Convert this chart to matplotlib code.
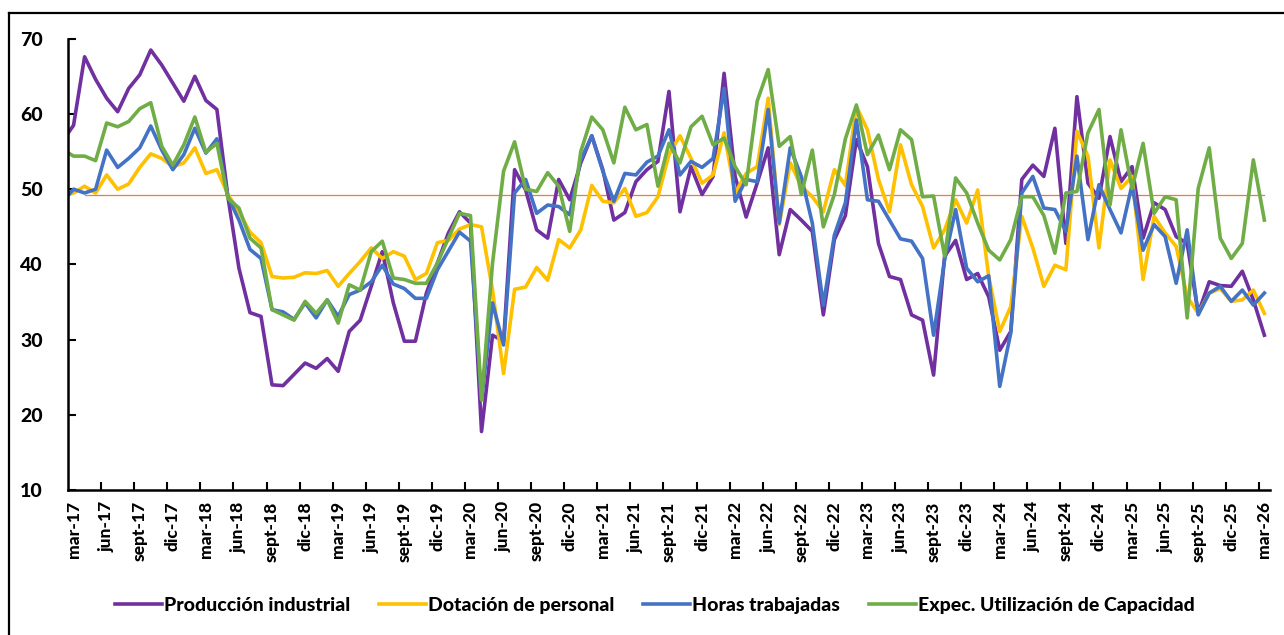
import matplotlib
matplotlib.use("Agg")
import matplotlib.pyplot as plt
from matplotlib.lines import Line2D
from matplotlib import font_manager

# pick the first preferred family that really has a bold face installed
prefer = ['Lato', 'Open Sans', 'Noto Sans', 'Roboto', 'Liberation Sans', 'DejaVu Sans']
bold_names = {f.name for f in font_manager.fontManager.ttflist
              if (isinstance(f.weight, int) and f.weight >= 700) or f.weight in ('bold', 'heavy', 'black')}
family = next((p for p in prefer if p in bold_names), 'DejaVu Sans')
plt.rcParams['font.family'] = [family, 'DejaVu Sans']
WEIGHT = 900
plt.rcParams['font.weight'] = WEIGHT

# monthly values, feb-17 .. mar-26 (feb-17 sits just left of the axis and is clipped)
produccion = [56.4,
    58.5, 67.6, 64.6, 62.1, 60.3, 63.4, 65.2, 68.5, 66.5, 64.1, 61.7, 65.0,
    61.8, 60.6, 49.0, 39.5, 33.6, 33.1, 24.0, 23.9, 25.4, 26.9, 26.2, 27.5,
    25.8, 31.1, 32.6, 37.1, 41.7, 34.9, 29.8, 29.8, 36.2, 40.2, 44.2, 47.0,
    45.5, 17.8, 30.6, 29.8, 52.6, 49.9, 44.6, 43.5, 51.3, 48.6, 53.5, 57.1,
    52.6, 45.9, 46.9, 51.0, 52.6, 53.7, 63.0, 47.0, 53.0, 49.3, 51.7, 65.4,
    51.7, 46.3, 50.8, 55.5, 41.3, 47.3, 45.9, 44.4, 33.3, 43.3, 46.5, 56.6,
    53.0, 42.8, 38.4, 38.0, 33.3, 32.6, 25.3, 41.1, 43.2, 38.0, 38.8, 35.7,
    28.6, 31.1, 51.3, 53.2, 51.7, 58.1, 42.8, 62.3, 50.8, 48.8, 57.0, 51.0,
    53.0, 43.5, 48.2, 47.3, 43.7, 42.8, 33.5, 37.7, 37.2, 37.1, 39.1, 35.3,
    30.6]
dotacion = [49.0,
    49.5, 50.4, 49.5, 51.9, 50.0, 50.7, 52.9, 54.7, 54.1, 53.0, 53.5, 55.5,
    52.1, 52.6, 49.3, 47.0, 44.3, 42.9, 38.4, 38.2, 38.3, 38.9, 38.8, 39.2,
    37.1, 38.8, 40.4, 42.2, 40.8, 41.7, 41.1, 38.0, 38.8, 42.9, 43.2, 44.7,
    45.3, 45.0, 36.6, 25.5, 36.7, 37.0, 39.6, 37.9, 43.3, 42.2, 44.6, 50.5,
    48.4, 48.2, 50.1, 46.4, 46.9, 49.0, 54.6, 57.1, 54.1, 50.8, 51.9, 57.5,
    49.5, 52.1, 53.0, 62.1, 45.3, 53.5, 50.4, 49.0, 47.0, 52.6, 50.5, 61.0,
    57.9, 51.3, 47.0, 55.9, 50.6, 47.7, 42.2, 44.6, 48.6, 45.5, 49.9, 38.4,
    31.1, 34.4, 46.4, 42.2, 37.1, 39.9, 39.3, 57.7, 54.4, 42.2, 53.9, 50.1,
    51.7, 38.0, 46.4, 44.2, 42.4, 35.7, 33.5, 36.2, 36.8, 35.1, 35.3, 36.6,
    33.5]
horas = [48.4,
    50.0, 49.5, 50.0, 55.2, 52.9, 54.1, 55.5, 58.4, 55.2, 52.6, 54.6, 58.1,
    54.8, 56.7, 49.0, 45.9, 42.0, 40.8, 34.0, 33.7, 32.7, 34.9, 32.9, 35.3,
    33.1, 36.0, 36.6, 37.7, 39.9, 37.4, 36.8, 35.5, 35.5, 39.3, 41.8, 44.3,
    43.1, 22.0, 34.9, 29.3, 49.5, 51.3, 46.8, 47.9, 47.7, 46.6, 53.9, 57.1,
    52.4, 48.4, 52.1, 51.9, 53.6, 54.4, 57.9, 51.9, 53.7, 52.9, 54.1, 63.4,
    48.4, 51.3, 51.0, 60.6, 45.5, 55.5, 51.7, 45.5, 34.6, 43.9, 48.2, 59.2,
    48.6, 48.4, 45.9, 43.4, 43.1, 40.8, 30.6, 40.6, 47.3, 39.5, 37.7, 38.5,
    23.8, 30.9, 49.5, 51.7, 47.5, 47.3, 44.4, 54.4, 43.3, 50.6, 47.3, 44.2,
    50.6, 41.9, 45.3, 43.7, 37.5, 44.6, 33.3, 36.2, 37.1, 35.1, 36.6, 34.6,
    36.2]
expec_capacidad = [55.3,
    54.4, 54.4, 53.8, 58.8, 58.3, 59.0, 60.7, 61.5, 55.7, 53.2, 55.9, 59.6,
    54.9, 56.1, 48.8, 47.5, 43.5, 42.2, 34.0, 33.3, 32.6, 35.1, 33.5, 35.3,
    32.2, 37.3, 36.6, 41.7, 43.1, 38.2, 38.0, 37.5, 37.5, 40.2, 43.5, 46.8,
    46.5, 22.0, 40.2, 52.4, 56.3, 50.0, 49.7, 52.2, 50.4, 44.4, 55.0, 59.6,
    57.9, 53.5, 60.9, 57.9, 58.6, 50.4, 56.1, 53.5, 58.3, 59.7, 55.9, 56.8,
    53.0, 50.6, 61.7, 65.9, 55.7, 57.0, 49.3, 55.2, 45.0, 49.3, 56.7, 61.2,
    54.6, 57.2, 52.6, 57.9, 56.6, 49.0, 49.1, 41.1, 51.5, 49.5, 45.5, 41.9,
    40.6, 43.3, 49.0, 49.0, 46.5, 41.5, 49.5, 49.7, 57.5, 60.6, 47.9, 57.9,
    50.1, 56.1, 46.8, 49.0, 48.6, 32.9, 50.1, 55.5, 43.5, 40.8, 42.8, 53.9,
    45.9]
referencia = 49.2

tick_labels = ['mar-17', 'jun-17', 'sept-17', 'dic-17', 'mar-18', 'jun-18', 'sept-18', 'dic-18',
               'mar-19', 'jun-19', 'sept-19', 'dic-19', 'mar-20', 'jun-20', 'sept-20', 'dic-20',
               'mar-21', 'jun-21', 'sept-21', 'dic-21', 'mar-22', 'jun-22', 'sept-22', 'dic-22',
               'mar-23', 'jun-23', 'sept-23', 'dic-23', 'mar-24', 'jun-24', 'sept-24', 'dic-24',
               'mar-25', 'jun-25', 'sept-25', 'dic-25', 'mar-26']

series = [('Producción industrial', produccion, '#7030A0'),
          ('Dotación de personal', dotacion, '#FFC000'),
          ('Horas trabajadas', horas, '#4472C4'),
          ('Expec. Utilización de Capacidad', expec_capacidad, '#70AD47')]

x = list(range(-1, len(produccion) - 1))
n_last = x[-1]

fig = plt.figure(figsize=(12.84, 6.35), dpi=100)
ax = fig.add_axes([0.053, 0.228, 0.936, 0.711])

for name, vals, col in series:
    ax.plot(x, vals, color=col, lw=2.6, label=name, solid_joinstyle='round')
ax.plot([1, n_last], [referencia, referencia], color='#ED7D31', lw=0.9, zorder=1)

ax.set_xlim(-0.5, n_last + 0.5)
ax.set_ylim(10, 70)
ax.set_yticks(range(10, 71, 10))
ax.tick_params(axis='y', direction='in', length=6, width=1.5, labelsize=14, pad=18)

# tick marks sit between categories, labels on the category
ax.set_xticks([i - 0.5 for i in range(3, n_last + 1, 3)])
ax.set_xticklabels([])
ax.set_xticks(list(range(0, n_last + 1, 3)), minor=True)
ax.set_xticklabels(tick_labels, minor=True, rotation=90, fontsize=12.5, fontweight=WEIGHT)
ax.tick_params(axis='x', which='major', direction='in', length=6, width=1.5)
ax.tick_params(axis='x', which='minor', length=0, pad=8)
for lab in ax.get_yticklabels():
    lab.set_fontweight(WEIGHT)

for s in ['top', 'right']:
    ax.spines[s].set_visible(False)
for s in ['left', 'bottom']:
    ax.spines[s].set_linewidth(1.8)

fig.legend(loc='center', bbox_to_anchor=(0.51, 0.047), ncol=4, frameon=False,
           prop={'size': 14, 'weight': WEIGHT},
           handlelength=2.4, handletextpad=0.1, columnspacing=1.5)

# chart area border (cropped on right and bottom)
fig.add_artist(Line2D([9 / 1284, 1], [1 - 13 / 635, 1 - 13 / 635], color='black', lw=1.6))
fig.add_artist(Line2D([9 / 1284, 9 / 1284], [0, 1 - 13 / 635], color='black', lw=1.6))

fig.savefig('out.png', dpi=100)
